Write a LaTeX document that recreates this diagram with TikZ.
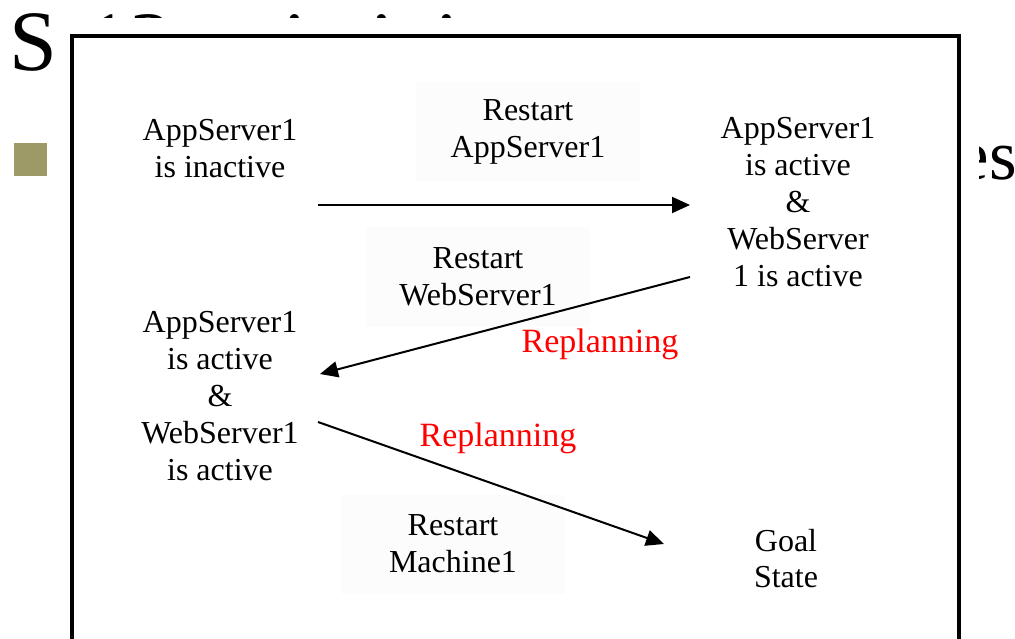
\documentclass[tikz,border=0pt]{standalone}
\usepackage{fontspec}
\setmainfont{Liberation Serif}
\usetikzlibrary{arrows.meta}
\definecolor{bulletolive}{RGB}{157,154,104}
\definecolor{labelbg}{RGB}{252,252,252}
\tikzset{
  statetext/.style={align=center, inner sep=0pt, font=\fontsize{32}{37}\selectfont},
  actionlbl/.style={align=center, inner sep=0pt, fill=labelbg, minimum width=224pt, minimum height=99pt, font=\fontsize{32}{37}\selectfont},
  replan/.style={inner sep=0pt, text=red, font=\fontsize{34}{40}\selectfont},
  titletext/.style={inner sep=0pt, anchor=base west, font=\fontsize{86}{100}\selectfont},
  arr/.style={line width=2pt, -{Triangle[length=18pt,width=16pt]}},
  frame/.style={line width=3.5pt}
}
\begin{document}
\begin{tikzpicture}[x=1pt,y=-1pt]
\useasboundingbox (0,0) rectangle (1015,639);
\clip (0,0) rectangle (1015,639);
% slide behind
\node[titletext] (tS) at (9,71) {S};
\node[titletext] (t13) at (86,72) {13};
\node[titletext, anchor=base] (ti1) at (295,72) {i};
\node[titletext, anchor=base] (ti2) at (382,72) {i};
\node[titletext, anchor=base] (ti3) at (447,72) {i};
\fill[bulletolive] (14,143) rectangle (47,176);
\node[inner sep=0pt, anchor=base east, font=\fontsize{71}{80}\selectfont] (tes) at (1017,180) {es};
% picture
\fill[white] (62,18) rectangle (979,660);
\draw[frame] (72,660) -- (72,36) -- (959,36) -- (959,660);
% states
\node[statetext] (n1) at (220,149) {AppServer1\\is inactive};
\node[statetext] (n2) at (798,202) {AppServer1\\is active\\\&\\WebServer\\1 is active};
\node[statetext] (n3) at (220,396) {AppServer1\\is active\\\&\\WebServer1\\is active};
\node[statetext, font=\fontsize{32}{36}\selectfont] (n4) at (786,559) {Goal\\State};
% action labels
\node[actionlbl] (l1) at (528,132) {Restart\\AppServer1};
\node[actionlbl] (l2) at (478,277) {Restart\\WebServer1};
\node[actionlbl] (l3) at (453,544) {Restart\\Machine1};
\node[replan] (r1) at (600,344) {Replanning};
\node[replan] (r2) at (498,438) {Replanning};
% connectors
\coordinate (a1s) at (318,205);
\coordinate (a1e) at (690,205);
\coordinate (a2s) at (690,277);
\coordinate (a2e) at (320,374);
\coordinate (a3s) at (318,422);
\coordinate (a3e) at (664,544);
\draw[arr] (a1s) -- (a1e);
\draw[arr] (a2s) -- (a2e);
\draw[arr] (a3s) -- (a3e);
\end{tikzpicture}
\end{document}
